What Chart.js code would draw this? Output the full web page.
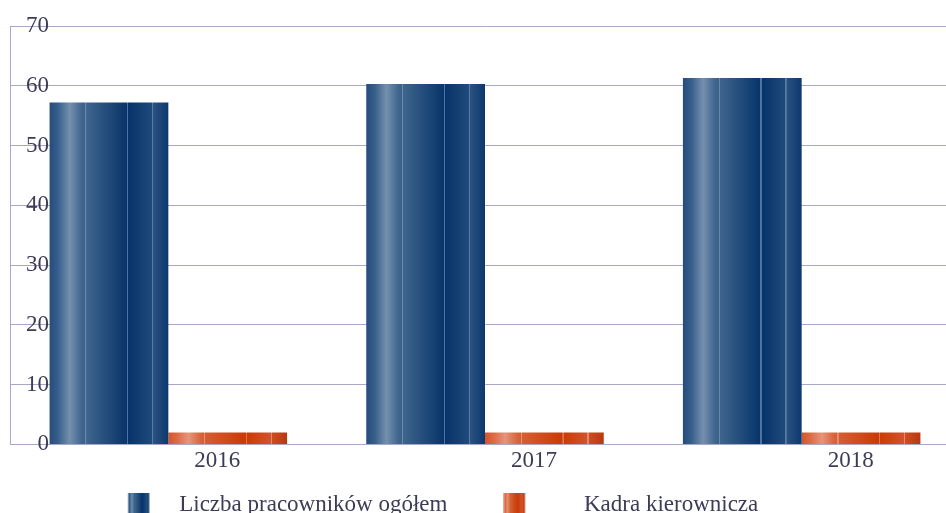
<!DOCTYPE html>
<html><head><meta charset="utf-8">
<script src="https://cdn.jsdelivr.net/npm/chart.js@4"></script>
<style>html,body{margin:0;padding:0;background:#fff;overflow:hidden;}#wrap{width:960px;height:523px;}</style>
</head><body><div id="wrap"><canvas id="c" width="960" height="523"></canvas></div>
<script>
const categories = ['2016', '2017', '2018'];
const totalEmployees = [57.2, 60.3, 61.3];
const management = [2.0, 2.0, 2.0];
const seriesLabels = ['Liczba pracowników ogółem', 'Kadra kierownicza'];
const yTicks = [0, 10, 20, 30, 40, 50, 60, 70];

const FONT = '"Liberation Serif", "Times New Roman", serif';
const TEXT = '#3c3c56';
const GRID = '#a7a7c9';
const LEG_DX = -56.5, LEG_DY = -41;
const SWATCH_OFFSET = [29.5, 0.5];

const STOPS = [
  [[0,'#264c7c'],[0.07,'#365e8b'],[0.17,'#7590ae'],[0.27,'#40668f'],[0.300,'#3b6189'],[0.301,'#6a88aa'],[0.31,'#6a88aa'],[0.311,'#3f658d'],
   [0.652,'#07346a'],[0.653,'#4f74a0'],[0.662,'#4f74a0'],[0.663,'#06336a'],[0.862,'#1f4a7b'],[0.863,'#5a7ca2'],[0.872,'#5a7ca2'],[0.873,'#2a5282'],[1,'#0d386c']],
  [[0,'#d4542a'],[0.07,'#dc6a44'],[0.17,'#e6957a'],[0.27,'#d8663e'],[0.300,'#d65e34'],[0.301,'#e69276'],[0.31,'#e69276'],[0.311,'#d65e34'],
   [0.652,'#c93a06'],[0.653,'#de7656'],[0.662,'#de7656'],[0.663,'#cb3c06'],[0.862,'#d2532c'],[0.863,'#e48a6c'],[0.872,'#e48a6c'],[0.873,'#cf4c22'],[1,'#b8390f']]
];
const BASE = ['#1e4878', '#d04a20'];

function makeGrad(ctx, x0, w, stops) {
  const g = ctx.createLinearGradient(x0, 0, x0 + w, 0);
  stops.forEach(([p, c]) => g.addColorStop(p, c));
  return g;
}
function swatch(i) {
  const cv = document.createElement('canvas');
  cv.width = 69; cv.height = 24;
  const cx = cv.getContext('2d');
  const x0 = SWATCH_OFFSET[i];
  cx.fillStyle = makeGrad(cx, x0, 21, STOPS[i]);
  cx.fillRect(x0, 0, 21, 24);
  return cv;
}
const swatches = [swatch(0), swatch(1)];

const barGradient = {
  id: 'barGradient',
  beforeDatasetsDraw(chart) {
    chart.data.datasets.forEach((ds, i) => {
      chart.getDatasetMeta(i).data.forEach(bar => {
        const p = bar.getProps(['x', 'width'], true);
        bar.options.backgroundColor = makeGrad(chart.ctx, p.x - p.width / 2, p.width, STOPS[i]);
      });
    });
  }
};
const legendShift = {
  id: 'legendShift',
  afterLayout(chart) {
    const lg = chart.legend;
    if (!lg) return;
    lg.left += LEG_DX; lg.right += LEG_DX; lg.top += LEG_DY;
  }
};

new Chart(document.getElementById('c'), {
  type: 'bar',
  data: {
    labels: categories,
    datasets: [
      { label: seriesLabels[0], data: totalEmployees, backgroundColor: c => BASE[0] },
      { label: seriesLabels[1], data: management, backgroundColor: c => BASE[1] }
    ]
  },
  options: {
    responsive: false,
    animation: false,
    devicePixelRatio: 1,
    layout: { padding: { left: 10, right: 0, top: 26, bottom: 0 } },
    datasets: { bar: { categoryPercentage: 0.75, barPercentage: 1.0, borderWidth: 0 } },
    scales: {
      x: {
        grid: { display: false, drawTicks: false },
        border: { display: true, color: GRID, width: 1 },
        ticks: { font: { family: FONT, size: 23 }, color: TEXT, padding: 3, labelOffset: 49 }
      },
      y: {
        min: 0, max: 70,
        afterBuildTicks: s => { s.ticks = yTicks.map(v => ({ value: v })); },
        afterFit: s => { s.width = 0; s.paddingTop = 0; s.paddingBottom = 0; },
        grid: { color: GRID, lineWidth: 1, drawTicks: false },
        border: { display: true, color: GRID, width: 1 },
        ticks: { mirror: true, crossAlign: 'far', padding: 16, font: { family: FONT, size: 23 }, color: TEXT }
      }
    },
    plugins: {
      tooltip: { enabled: false },
      legend: {
        position: 'bottom',
        maxHeight: 45,
        labels: {
          font: { family: FONT, size: 23 }, color: TEXT,
          usePointStyle: true, pointStyleWidth: 69, padding: 56,
          generateLabels: chart => chart.data.datasets.map((ds, i) => ({
            text: ds.label, pointStyle: swatches[i], fillStyle: BASE[i],
            strokeStyle: 'rgba(0,0,0,0)', lineWidth: 0, hidden: false, datasetIndex: i, fontColor: TEXT
          }))
        }
      }
    }
  },
  plugins: [barGradient, legendShift]
});
</script></body></html>
